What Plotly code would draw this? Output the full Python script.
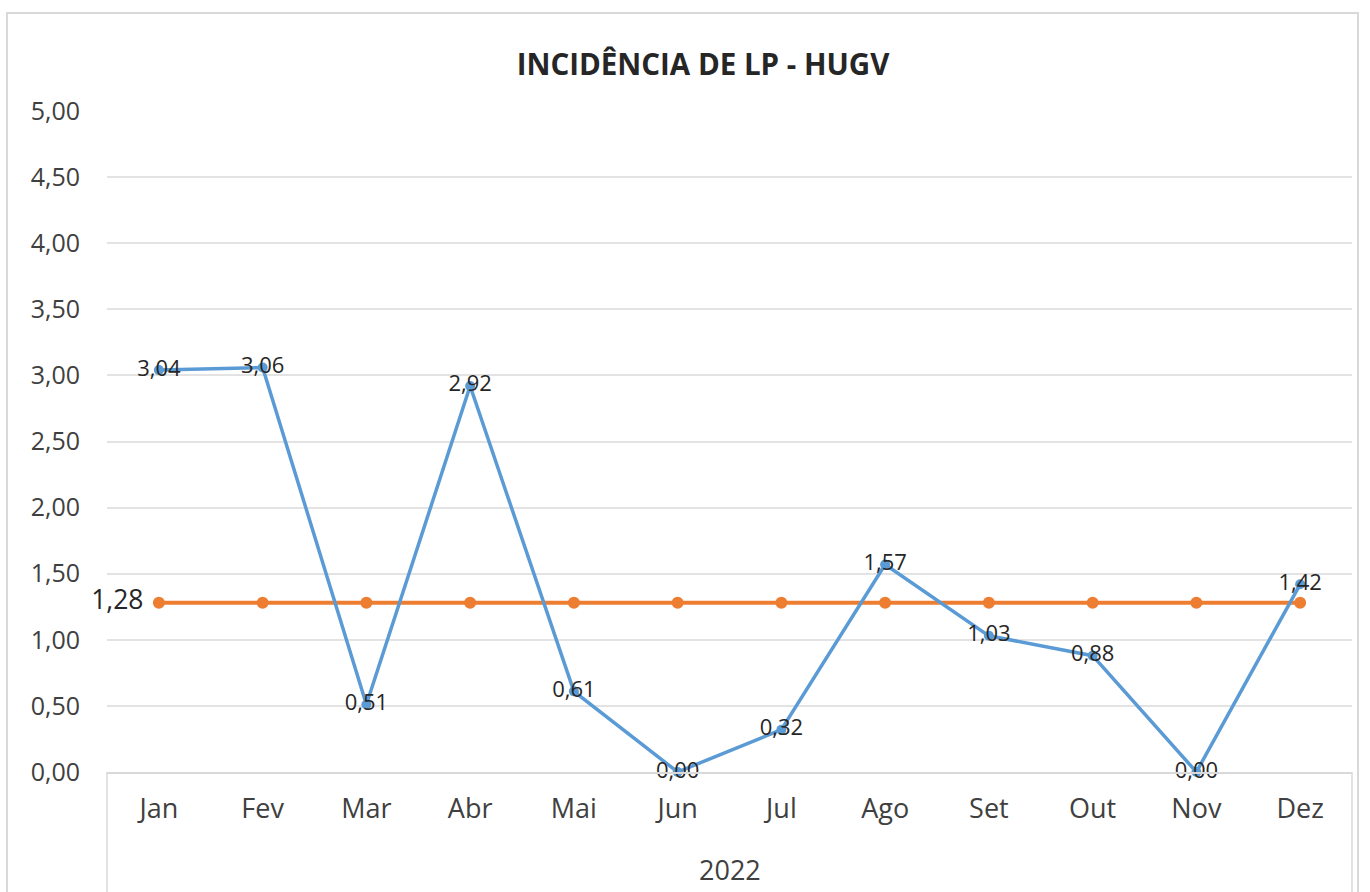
import plotly.graph_objects as go

months = ["Jan", "Fev", "Mar", "Abr", "Mai", "Jun", "Jul", "Ago", "Set", "Out", "Nov", "Dez"]
year = "2022"
incidencia = [3.04, 3.06, 0.51, 2.92, 0.61, 0.00, 0.32, 1.57, 1.03, 0.88, 0.00, 1.42]
media = [1.28] * 12

def fmt(v):
    return f"{v:.2f}".replace(".", ",")

font_family = "Open Sans, Noto Sans, sans-serif"

fig = go.Figure()
fig.add_trace(go.Scatter(
    x=months, y=media, mode="lines+markers+text",
    line=dict(color="#ED7D31", width=4),
    marker=dict(color="#ED7D31", size=12),
    text=[fmt(media[0]) + "\u00a0"] + [""] * 11,
    textposition="middle left",
    textfont=dict(size=26.5, color="#262626", family=font_family),
    cliponaxis=False, hoverinfo="skip", showlegend=False,
))
fig.add_trace(go.Scatter(
    x=months, y=incidencia, mode="lines+markers+text",
    line=dict(color="#5B9BD5", width=3.5),
    marker=dict(color="#5B9BD5", size=10),
    text=[fmt(v) for v in incidencia],
    textposition="middle center",
    textfont=dict(size=22, color="#262626", family=font_family),
    cliponaxis=False, showlegend=False,
))

W, H = 1370, 892
L, R, T, B = 107, 18, 111, 120
pw, ph = W - L - R, H - T - B
grey = "#D9D9D9"

fig.update_layout(
    width=W, height=H,
    margin=dict(l=L, r=R, t=T, b=B, autoexpand=False),
    paper_bgcolor="white", plot_bgcolor="white",
    separators=",.",
    font=dict(family=font_family, color="#404040"),
    title=dict(text="<b>INCIDÊNCIA DE LP - HUGV</b>", x=703 / W, xanchor="center",
               y=1 - 65 / H, yanchor="middle",
               font=dict(size=29.5, color="#262626", family=font_family)),
    xaxis=dict(
        type="category", range=[-0.5, 11.5], automargin=False,
        showgrid=False, showline=True, linecolor=grey, linewidth=1.5,
        tickfont=dict(size=27, color="#404040"),
        ticks="", zeroline=False, ticklabelstandoff=12,
    ),
    yaxis=dict(
        range=[0, 5], dtick=0.5, tick0=0, tickformat=".2f", automargin=False,
        showgrid=True, gridcolor="#E3E3E3", gridwidth=1.5,
        zeroline=False, showline=False,
        tickfont=dict(size=25, color="#404040"),
        ticklabelstandoff=26,
    ),
    annotations=[dict(
        text=year, xref="paper", yref="paper", x=0.5, y=-97 / ph,
        xanchor="center", yanchor="middle", showarrow=False,
        font=dict(size=27, color="#404040", family=font_family),
    )],
    shapes=[
        dict(type="rect", xref="paper", yref="paper",
             x0=(7 - L) / pw, x1=(1358 - L) / pw,
             y0=-(B + 20) / ph, y1=(H - 13 - B) / ph,
             line=dict(color=grey, width=2), fillcolor="rgba(0,0,0,0)", layer="below"),
        dict(type="line", xref="paper", yref="paper", x0=0, x1=0, y0=0, y1=-(B + 20) / ph,
             line=dict(color=grey, width=1.5), layer="below"),
        dict(type="line", xref="paper", yref="paper", x0=1, x1=1, y0=0, y1=-(B + 20) / ph,
             line=dict(color=grey, width=1.5), layer="below"),
    ],
)

fig.write_html("out.html",
               config={"displayModeBar": False},
               post_script="document.body.style.margin='0';document.body.style.overflow='hidden';")
